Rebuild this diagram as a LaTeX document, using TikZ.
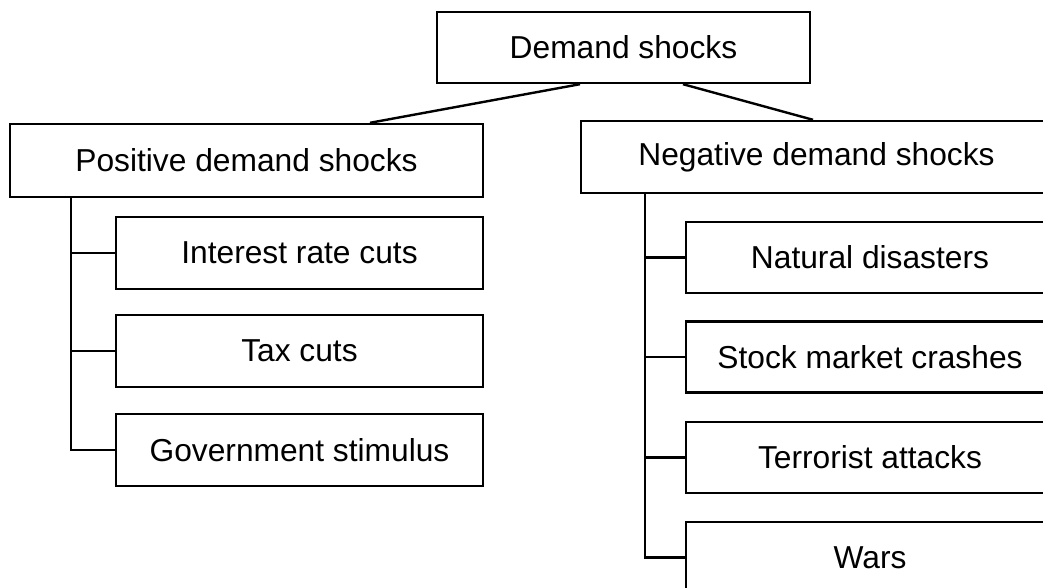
\documentclass[tikz,border=0pt]{standalone}
\usepackage{fontspec}
\setmainfont{Liberation Sans}
\usetikzlibrary{calc}
\tikzset{
  box/.style={draw=black, line width=1.8pt, fill=white, inner sep=0pt, align=center,
    font=\fontsize{23.8pt}{28pt}\selectfont},
  link/.style={draw=black, line width=1.8pt},
}
\begin{document}
\begin{tikzpicture}[x=0.75pt, y=-0.75pt]
\useasboundingbox (0,0) rectangle (1043,588);
\fill[white] (0,0) rectangle (1043,588);
\clip (0,0) rectangle (1043,588);

\node[box, minimum width=373*0.75pt, minimum height=71*0.75pt] (top) at (623.5,47.5) {Demand shocks};
\node[box, minimum width=473*0.75pt, minimum height=73*0.75pt] (pos) at (246.5,160.5) {Positive demand shocks};
\node[box, minimum width=471*0.75pt, minimum height=72*0.75pt] (neg) at (816.5,157) {Negative demand shocks};

\node[box, minimum width=367*0.75pt, minimum height=72*0.75pt] (p1) at (299.5,253) {Interest rate cuts};
\node[box, minimum width=367*0.75pt, minimum height=72*0.75pt] (p2) at (299.5,351) {Tax cuts};
\node[box, minimum width=367*0.75pt, minimum height=72*0.75pt] (p3) at (299.5,450) {Government stimulus};

\node[box, minimum width=368*0.75pt, minimum height=71*0.75pt] (n1) at (870,257.5) {Natural disasters};
\node[box, minimum width=368*0.75pt, minimum height=71*0.75pt] (n2) at (870,357) {Stock market crashes};
\node[box, minimum width=368*0.75pt, minimum height=71*0.75pt] (n3) at (870,457.5) {Terrorist attacks};
\node[box, minimum width=368*0.75pt, minimum height=71*0.75pt] (n4) at (870,557.5) {Wars};

% top-level connectors
\coordinate (tl) at ($(top.south)+(-43.5,0)$);
\coordinate (tr) at ($(top.south)+(59.5,0)$);
\coordinate (pt) at ($(pos.north)+(123.5,0)$);
\coordinate (nt) at ($(neg.north)+(-3.5,0)$);
\draw[link] (tl) -- (pt);
\draw[link] (tr) -- (nt);

% left tree
\coordinate (lv) at ($(pos.south west)+(62,0)$);
\draw[link] (lv) |- (p3.west);
\draw[link] (lv |- p1.west) -- (p1.west);
\draw[link] (lv |- p2.west) -- (p2.west);

% right tree
\coordinate (rv) at ($(neg.south west)+(65,0)$);
\draw[link] (rv) |- (n4.west);
\draw[link] (rv |- n1.west) -- (n1.west);
\draw[link] (rv |- n2.west) -- (n2.west);
\draw[link] (rv |- n3.west) -- (n3.west);
\end{tikzpicture}
\end{document}
